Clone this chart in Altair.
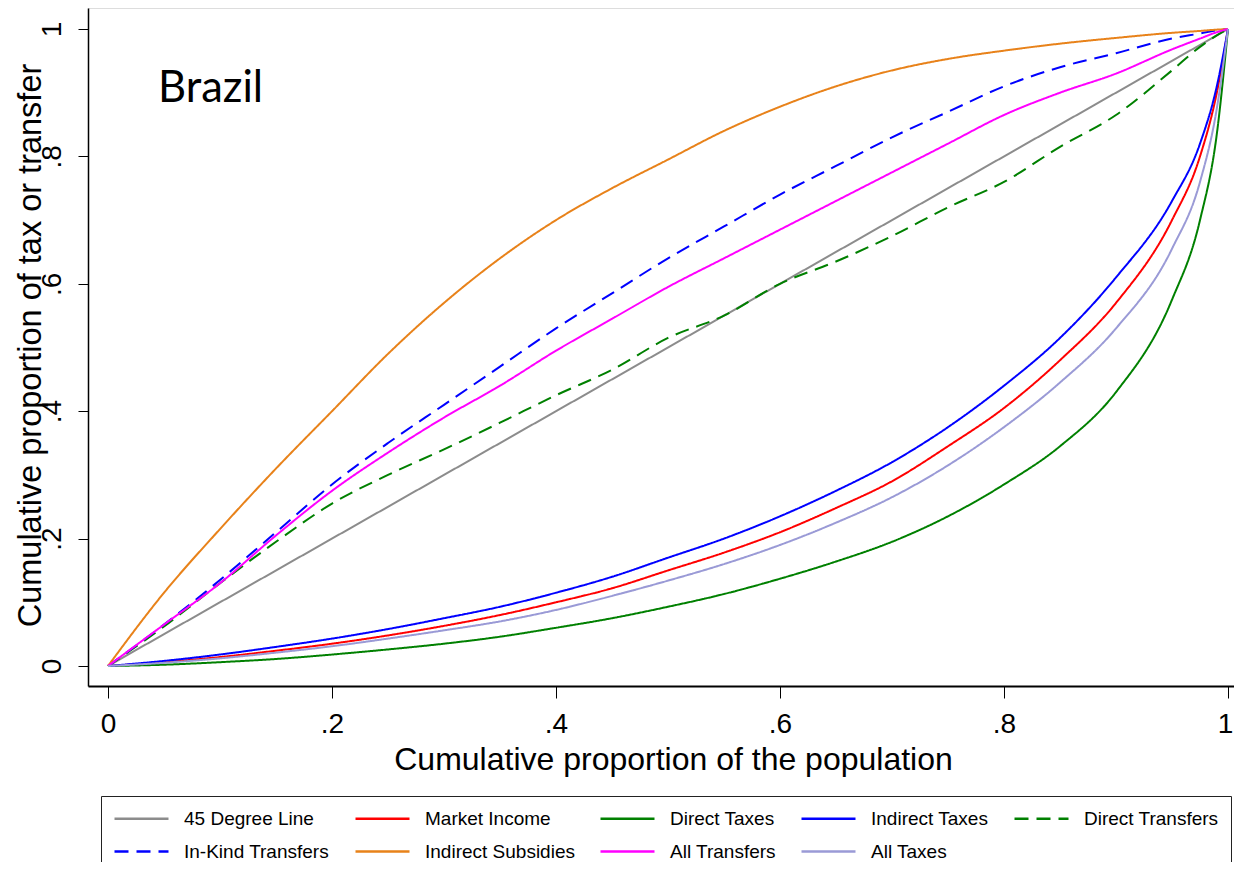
import altair as alt
import pandas as pd

# ---- data ----
series_order = ["45 Degree Line", "Market Income", "Direct Taxes", "Indirect Taxes",
                "Direct Transfers", "In-Kind Transfers", "Indirect Subsidies",
                "All Transfers", "All Taxes"]
series_colors = ["#8c8c8c", "#ff0000", "#008000", "#0000ff", "#008000",
                 "#0000ff", "#e8821a", "#ff00ff", "#9a9ad6"]
series_dashes = [[1, 0], [1, 0], [1, 0], [1, 0], [14, 8], [14, 8], [1, 0], [1, 0], [1, 0]]

pop = [0, .05, .1, .15, .2, .25, .3, .35, .4, .45, .5, .55, .6, .65, .7, .75,
       .8, .85, .9, .95, .975, .99, 1]

deg45_x = [0, 1]
deg45_y = [0, 1]
market_income = [0, .006, .014, .024, .035, .048, .063, .08, .10, .122, .15, .178, .21,
                 .248, .29, .345, .405, .48, .57, .70, .80, .90, 1]
direct_taxes = [0, .002, .006, .011, .018, .026, .035, .046, .06, .075, .093, .113, .137,
                .164, .195, .235, .285, .345, .43, .575, .70, .835, 1]
indirect_taxes = [0, .008, .018, .03, .043, .058, .075, .093, .115, .14, .17, .2, .235,
                  .275, .32, .375, .44, .515, .61, .73, .82, .91, 1]
direct_transfers = [0, .062, .13, .195, .255, .30, .34, .382, .425, .465, .515, .55, .60,
                    .635, .675, .72, .76, .815, .865, .935, .972, .99, 1]
inkind_transfers = [0, .065, .135, .21, .285, .35, .41, .47, .53, .585, .64, .69, .74,
                    .785, .83, .87, .91, .94, .962, .985, .993, .998, 1]
indirect_subsidies = [0, .115, .215, .31, .40, .49, .57, .64, .70, .75, .795, .84, .878,
                      .91, .935, .953, .966, .977, .986, .994, .997, .999, 1]
all_transfers = [0, .065, .13, .205, .275, .335, .39, .44, .495, .545, .595, .64, .685,
                 .73, .775, .82, .865, .9, .93, .968, .985, .995, 1]
all_taxes = [0, .005, .012, .021, .031, .043, .056, .07, .088, .11, .134, .16, .19,
             .225, .265, .315, .375, .445, .53, .655, .76, .875, 1]

tick_values = [0, .2, .4, .6, .8, 1]
country = "Brazil"

curves = {
    "45 Degree Line": (deg45_x, deg45_y),
    "Market Income": (pop, market_income),
    "Direct Taxes": (pop, direct_taxes),
    "Indirect Taxes": (pop, indirect_taxes),
    "Direct Transfers": (pop, direct_transfers),
    "In-Kind Transfers": (pop, inkind_transfers),
    "Indirect Subsidies": (pop, indirect_subsidies),
    "All Transfers": (pop, all_transfers),
    "All Taxes": (pop, all_taxes),
}

rows = []
for name in series_order:
    xs, ys = curves[name]
    for i, (a, b) in enumerate(zip(xs, ys)):
        rows.append({"series": name, "x": a, "y": b, "i": i})
df = pd.DataFrame(rows)

FONT = "Liberation Sans"
label_expr = "datum.value == 0 ? '0' : datum.value == 1 ? '1' : '.' + format(datum.value * 10, 'd')"

legend = alt.Legend(
    orient="none", legendX=13, legendY=788, direction="horizontal", columns=5,
    title=None, symbolType="M-1,0H5", symbolSize=324, symbolStrokeWidth=2.5,
    labelFont=FONT, labelFontSize=19, labelColor="black", labelOffset=50,
    labelLimit=400, columnPadding=20, rowPadding=12, strokeColor="#222222",
    padding=12, gridAlign="each",
)

lines = alt.Chart(df).mark_line(strokeWidth=2, interpolate="monotone").encode(
    x=alt.X("x:Q", scale=alt.Scale(domain=[-0.017857, 1.010714], nice=False, zero=False),
            axis=alt.Axis(values=tick_values, labelExpr=label_expr, grid=False,
                          title="Cumulative proportion of the population",
                          tickSize=12, tickColor="black", domainColor="black", domainWidth=2,
                          labelFont=FONT, labelFontSize=28, labelColor="black", labelPadding=12,
                          labelOffset={"condition": {"test": "datum.value == 1", "value": -3},
                                       "value": 0},
                          titleFont=FONT, titleFontSize=32, titleFontWeight="normal",
                          titleColor="black", titleBaseline="alphabetic", titleX=585, titleY=83)),
    y=alt.Y("y:Q", scale=alt.Scale(domain=[-0.031397, 1.032967], nice=False, zero=False),
            axis=alt.Axis(values=tick_values, labelExpr=label_expr, grid=False,
                          title="Cumulative proportion of tax or transfer",
                          tickSize=10, tickColor="black", domainColor="black", domainWidth=1.5,
                          labelFont=FONT, labelFontSize=28, labelColor="black", labelPadding=18,
                          labelAngle=-90, labelAlign="center", labelBaseline="alphabetic",
                          titleFont=FONT, titleFontSize=32.5, titleFontWeight="normal",
                          titleColor="black", titleBaseline="alphabetic", titleAngle=-90,
                          titleX=-48, titleY=337)),
    color=alt.Color("series:N", scale=alt.Scale(domain=series_order, range=series_colors),
                    legend=legend),
    strokeDash=alt.StrokeDash("series:N", scale=alt.Scale(domain=series_order, range=series_dashes),
                              legend=legend),
    order="i:Q",
)

label = alt.Chart(pd.DataFrame({"t": [country]})).mark_text(
    font="Lato", fontSize=43.5, align="left", baseline="alphabetic", color="black"
).encode(text="t:N", x=alt.value(70), y=alt.value(94))

chart = alt.layer(lines, label).properties(
    width=1152, height=678,
    autosize=alt.AutoSizeParams(type="none"),
    padding={"left": 80, "top": 0, "right": -6, "bottom": 176},
).configure_view(stroke="black", strokeWidth=1.5).configure(background="white")

chart.save("out.html", embed_options={"renderer": "svg", "actions": False})
